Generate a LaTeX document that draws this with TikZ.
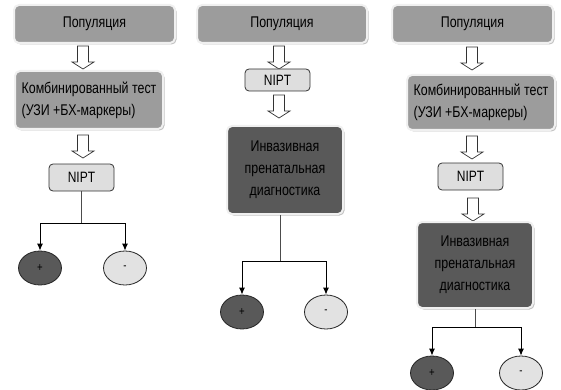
\documentclass[tikz,border=0pt]{standalone}
\usepackage{fontspec}
\setmainfont{Liberation Sans}[FakeStretch=0.8]
\usetikzlibrary{positioning,shapes.geometric,shadows,arrows.meta}
\definecolor{popgray}{HTML}{9C9C9C}
\definecolor{invgray}{HTML}{595959}
\definecolor{niptgray}{HTML}{DEDEDE}
\definecolor{neggray}{HTML}{E2E2E2}

\begin{document}
\begin{tikzpicture}[x=1pt,y=-1pt,
    box/.style={rectangle,rounded corners=5pt,draw=gray!12,line width=2pt,
        drop shadow={shadow xshift=1.5pt,shadow yshift=-1.5pt,opacity=0.5},
        font=\fontsize{15.5}{22}\selectfont,inner sep=0pt},
    popbox/.style={box,fill=popgray,minimum height=38pt},
    combbox/.style={box,fill=popgray,align=left,minimum width=148pt,minimum height=58pt},
    invbox/.style={box,fill=invgray,text width=112pt,inner xsep=2pt,align=center,minimum height=88pt},
    niptbox/.style={rectangle,rounded corners=4pt,draw=black!80,line width=0.8pt,fill=niptgray,
        minimum width=65pt,font=\fontsize{15}{15}\selectfont},
    hollow/.style={draw=black!80,fill=white,line width=0.7pt,line join=miter},
    result/.style={ellipse,draw=black!85,line width=0.8pt,minimum width=43pt,minimum height=34pt,
        font=\fontsize{12}{12}\selectfont},
    stem/.style={gray!60!black,line width=0.9pt},
    branch/.style={black,line width=0.9pt,-{Latex[length=7pt,width=6pt]}}]
    \useasboundingbox (0,0) rectangle (561,390);

    % hollow arrows between the boxes
    \foreach \x/\y in {83/46,83/135,279/46,279/95,472/47,472/136,473/198}
        \draw[hollow] (\x-5.5,\y) -- ++(11,0) -- ++(0,16) -- ++(5.5,0) -- (\x,\y+23)
            -- (\x-11,\y+16) -- ++(5.5,0) -- cycle;

    % first scheme
    \node[popbox,minimum width=161pt] (pop1) at (94.5,24) {Популяция};
    \node[combbox] (comb1) at (89,100) {Комбинированный тест\\(УЗИ +БХ-маркеры)};
    \node[niptbox,minimum height=27pt] (nipt1) at (81.5,177.5) {NIPT};
    \node[result,fill=invgray] (plus1) at (40,268) {+};
    \node[result,fill=neggray] (minus1) at (125,268) {-};
    \coordinate (j1) at (81.5,223);
    \draw[stem] (nipt1.south) -- (j1);
    \draw[branch] (j1) -| (plus1);
    \draw[branch] (j1) -| (minus1);

    % second scheme
    \node[popbox,minimum width=170pt] (pop2) at (282,24) {Популяция};
    \node[niptbox,minimum height=22pt] (nipt2) at (277.5,80) {NIPT};
    \node[invbox] (inv2) at (285,170) {Инвазивная\\пренатальная\\диагностика};
    \node[result,fill=invgray] (plus2) at (242,312) {+};
    \node[result,fill=neggray] (minus2) at (326,312) {-};
    \coordinate (j2) at (280,261);
    \draw[stem] (j2 |- inv2.south) -- (j2);
    \draw[branch] (j2) -| (plus2);
    \draw[branch] (j2) -| (minus2);

    % third scheme
    \node[popbox,minimum width=161pt] (pop3) at (472.5,24) {Популяция};
    \node[combbox,minimum height=55pt] (comb3) at (481,102.5) {Комбинированный тест\\(УЗИ +БХ-маркеры)};
    \node[niptbox,minimum height=27pt] (nipt3) at (470.5,176.5) {NIPT};
    \node[invbox,minimum height=86pt] (inv3) at (475,265) {Инвазивная\\пренатальная\\диагностика};
    \node[result,fill=invgray] (plus3) at (432,373) {+};
    \node[result,fill=neggray] (minus3) at (521,373) {-};
    \coordinate (j3) at (475,327);
    \draw[stem] (j3 |- inv3.south) -- (j3);
    \draw[branch] (j3) -| (plus3);
    \draw[branch] (j3) -| (minus3);
\end{tikzpicture}
\end{document}
